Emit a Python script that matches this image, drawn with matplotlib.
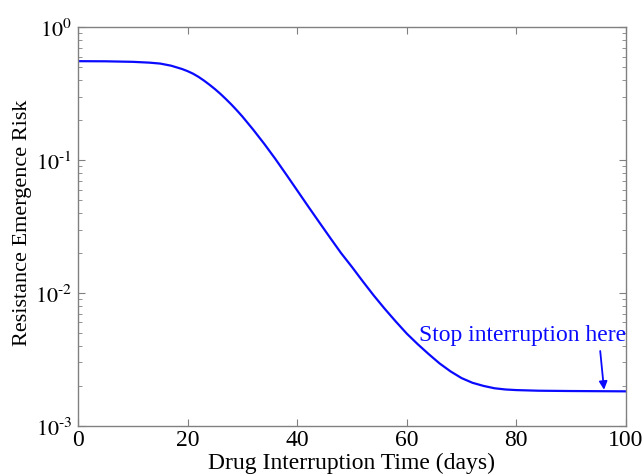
import matplotlib
matplotlib.use('Agg')
import matplotlib.pyplot as plt

# drug interruption time (days) and resistance emergence risk
days = [0, 5, 10, 13, 15, 17, 19, 20, 21, 22, 23, 24, 25, 26, 27, 28, 29, 30,
        32, 34, 36, 38, 40, 42, 44, 46, 48, 50, 52, 54, 56, 58, 60, 62, 64, 66,
        68, 70, 72, 74, 76, 78, 80, 84, 90, 100]
risk = [0.5546, 0.5534, 0.5483, 0.5408, 0.5321, 0.5129, 0.4842, 0.4667, 0.4467,
        0.4227, 0.3963, 0.3690, 0.3420, 0.3148, 0.2877, 0.2618, 0.2366, 0.2128,
        0.1690, 0.1324, 0.1023, 0.0780, 0.0592, 0.0449, 0.0342, 0.0261, 0.0200,
        0.0157, 0.0122, 0.00955, 0.00759, 0.00610, 0.00495, 0.00412, 0.00347,
        0.00295, 0.00257, 0.00229, 0.00211, 0.00200, 0.00192, 0.00188, 0.00186,
        0.00184, 0.00183, 0.00182]

xticks = [0, 20, 40, 60, 80, 100]
yticks = [1e-3, 1e-2, 1e-1, 1e0]
ytick_labels = ['$10^{\u2010 3}$', '$10^{\u2010 2}$', '$10^{\u2010 1}$', '$10^{0}$']

plt.rcParams['font.family'] = ['Liberation Serif', 'DejaVu Serif']
plt.rcParams['mathtext.fontset'] = 'stix'

fig = plt.figure(figsize=(6.44, 4.77), dpi=100)
ax = fig.add_axes([0.121, 0.105, 0.851, 0.836])

ax.plot(days, risk, color='#0a0aff', lw=1.6)
ax.set_yscale('log')
ax.set_xlim(0, 100)
ax.set_ylim(1e-3, 1e0)
ax.set_xticks(xticks)
ax.set_yticks(yticks)
ax.set_yticklabels(ytick_labels)

for s in ax.spines.values():
    s.set_color('#808080')
    s.set_linewidth(1.0)
ax.tick_params(which='both', direction='in', top=True, right=True, color='#808080',
               labelcolor='black')
ax.tick_params(which='major', length=5)
ax.tick_params(which='minor', length=3)
ax.tick_params(axis='x', pad=2, labelsize=17)
ax.tick_params(axis='y', pad=4, labelsize=16)

ax.set_xlabel('Drug Interruption Time (days)', fontsize=17, va='top')
ax.xaxis.set_label_coords(0.5, -0.064)
ax.set_ylabel('Resistance Emergence Risk', fontsize=16)
ax.yaxis.set_label_coords(-0.083, 0.5125)

ax.annotate('Stop interruption here', xy=(96.0, 0.00187), xytext=(62.2, 0.0049),
            color='#0a0aff', fontsize=17, va='center', ha='left')
ax.annotate('', xy=(96.0, 0.00187), xytext=(95.3, 0.00366),
            arrowprops=dict(arrowstyle='-|>', color='#0a0aff', lw=1.3,
                            mutation_scale=12, shrinkA=0, shrinkB=0))

fig.savefig('out.png', dpi=100)
